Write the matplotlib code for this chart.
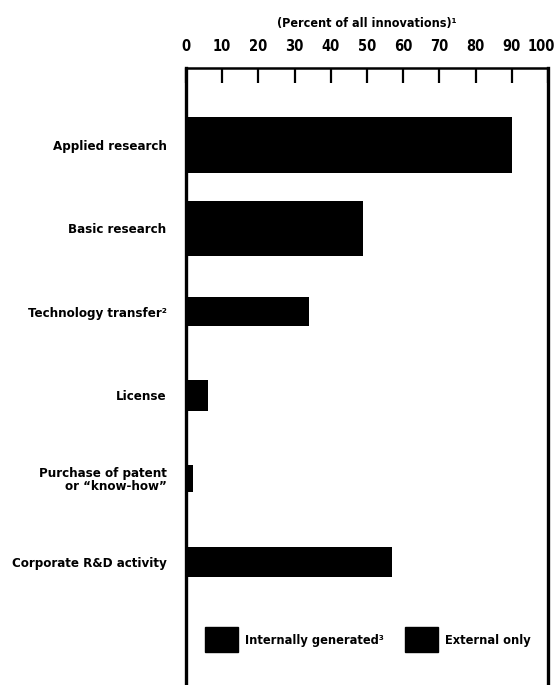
import matplotlib
matplotlib.use("Agg")
import matplotlib.pyplot as plt
from matplotlib.patches import Patch
from matplotlib.font_manager import FontProperties
from matplotlib.transforms import ScaledTranslation

plt.rcParams['font.family'] = ['DejaVu Sans']
plt.rcParams['font.weight'] = 'bold'
plt.rcParams['font.stretch'] = 'condensed'

categories = ["Applied research", "Basic research", "Technology transfer\u00b2",
              "License", "Purchase of patent\nor \u201cknow-how\u201d", "Corporate R&D activity"]
values = [90, 49, 34, 6, 2, 57]
x_ticks = [0, 10, 20, 30, 40, 50, 60, 70, 80, 90, 100]
legend_labels = ["Internally generated\u00b3", "External only"]
axis_title = "(Percent of all innovations)\u00b9"

bar_heights = [0.66, 0.66, 0.35, 0.37, 0.33, 0.35]

fig = plt.figure(figsize=(5.58, 6.85), dpi=100)
ax = fig.add_axes([0.3333, -0.02, 0.6487, 0.9207])

ypos = list(range(len(categories)))
ax.barh(ypos, values, height=bar_heights, color='black')

ax.set_xlim(0, 100)
ax.set_ylim(6.64, -0.923)
ax.xaxis.tick_top()
ax.xaxis.set_label_position('top')
ax.set_xticks(x_ticks)
ax.set_xticklabels([str(t) for t in x_ticks], fontsize=10.5, fontweight='bold', fontstretch='condensed')
ax.tick_params(axis='x', direction='in', length=11, width=1.6, pad=10)
ax.set_xlabel(axis_title, fontsize=9, fontweight='bold', fontstretch='condensed', labelpad=9)

last = ax.get_xticklabels()[-1]
last.set_transform(last.get_transform() + ScaledTranslation(-7 / 100, 0, fig.dpi_scale_trans))

ax.set_yticks(ypos)
ax.set_yticklabels(categories, fontsize=9.5, fontweight='bold', fontstretch='condensed', linespacing=0.95)
ax.tick_params(axis='y', length=0, pad=14)

for s in ['left', 'right']:
    ax.spines[s].set_linewidth(2.4)
ax.spines['top'].set_linewidth(1.8)
ax.spines['bottom'].set_visible(False)

handles = [Patch(facecolor='black', edgecolor='black'), Patch(facecolor='black', edgecolor='black')]
ax.legend(handles, legend_labels, loc='center', bbox_to_anchor=(0.503, 0.0935), ncol=2,
          frameon=False, handlelength=2.58, handleheight=2.6,
          handletextpad=0.55, columnspacing=1.7,
          prop=FontProperties(family='DejaVu Sans', weight='bold', stretch='condensed', size=9.2))

fig.savefig("out.png", dpi=100)
